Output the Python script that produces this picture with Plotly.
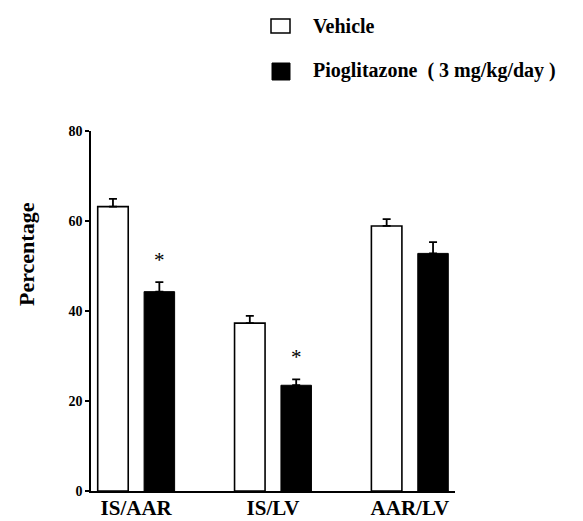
import plotly.graph_objects as go

categories = ["IS/AAR", "IS/LV", "AAR/LV"]
vehicle = [63.2, 37.3, 58.9]
vehicle_err = [1.7, 1.6, 1.5]
pio = [44.3, 23.5, 52.8]
pio_err = [2.1, 1.3, 2.5]
pio_sig = ["*", "*", ""]
y_ticks = [0, 20, 40, 60, 80]

W, H = 583, 521
L, R, T, B = 91, 583 - 455, 131, 521 - 491
plot_w = W - L - R
plot_h = H - T - B


def px(x):
    return (x - L) / plot_w


def py(y):
    return (H - B - y) / plot_h


FONT = "Liberation Serif"
bar_w = 0.223

fig = go.Figure()
fig.add_trace(go.Bar(
    x=categories, y=vehicle, name="Vehicle",
    width=bar_w, offset=-0.281,
    marker=dict(color="white", line=dict(color="black", width=1.6)),
    error_y=dict(type="data", symmetric=False, array=vehicle_err,
                 arrayminus=[0] * len(vehicle_err), color="black",
                 thickness=1.8, width=4),
    showlegend=False,
))
fig.add_trace(go.Bar(
    x=categories, y=pio, name="Pioglitazone ( 3 mg/kg/day )",
    width=bar_w, offset=0.058,
    marker=dict(color="black", line=dict(color="black", width=1)),
    error_y=dict(type="data", symmetric=False, array=pio_err,
                 arrayminus=[0] * len(pio_err), color="black",
                 thickness=1.8, width=4),
    showlegend=False,
))

annotations = []
for c, v, e, s in zip(categories, pio, pio_err, pio_sig):
    if s:
        annotations.append(dict(
            x=c, y=v + e, xref="x", yref="y", text=s, showarrow=False,
            xshift=23, yshift=22, font=dict(family=FONT, size=21, color="black"),
        ))

# legend drawn manually
shapes = [
    dict(type="rect", xref="paper", yref="paper",
         x0=px(271), x1=px(290), y0=py(33), y1=py(19),
         line=dict(color="black", width=1.5), fillcolor="white"),
    dict(type="rect", xref="paper", yref="paper",
         x0=px(272), x1=px(290), y0=py(80), y1=py(63),
         line=dict(color="black", width=1), fillcolor="black"),
]
annotations += [
    dict(x=px(311), y=py(26), xref="paper", yref="paper", text="Vehicle",
         showarrow=False, xanchor="left", yanchor="middle",
         font=dict(family=FONT, size=20, color="black", weight="bold")),
    dict(x=px(311), y=py(71), xref="paper", yref="paper",
         text="Pioglitazone  ( 3 mg/kg/day )",
         showarrow=False, xanchor="left", yanchor="middle",
         font=dict(family=FONT, size=20, color="black", weight="bold")),
    dict(x=px(26), y=py(254), xref="paper", yref="paper", text="Percentage",
         showarrow=False, xanchor="center", yanchor="middle", textangle=-90,
         font=dict(family=FONT, size=22, color="black", weight="bold")),
]

fig.update_layout(
    width=W, height=H,
    margin=dict(l=L, r=R, t=T, b=B, pad=0, autoexpand=False),
    paper_bgcolor="white", plot_bgcolor="white",
    barmode="overlay",
    shapes=shapes, annotations=annotations,
    font=dict(family=FONT, color="black"),
)
fig.update_xaxes(
    range=[-0.33, 2.33], showline=True, linecolor="black", linewidth=1.5,
    ticks="", showgrid=False, zeroline=False, automargin=False,
    ticklabelstandoff=-3,
    tickfont=dict(family=FONT, size=21, color="black", weight="bold"),
)
fig.update_yaxes(
    range=[0, 80], tickvals=y_ticks, showline=True, linecolor="black",
    linewidth=1.5, ticks="outside", ticklen=4, tickwidth=1.5,
    tickcolor="black", showgrid=False, zeroline=False, automargin=False,
    tickfont=dict(family=FONT, size=14, color="black", weight="bold"),
)

fig.write_html("out.html")
